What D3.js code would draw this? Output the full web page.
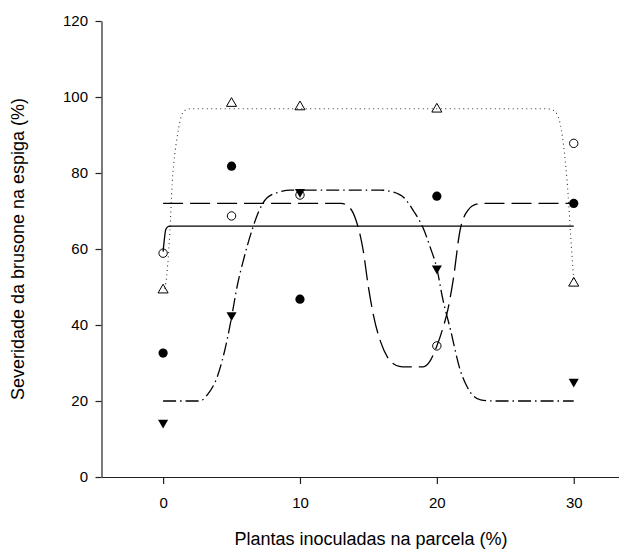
<!DOCTYPE html>
<html>
<head>
<meta charset="utf-8">
<script src="https://d3js.org/d3.v7.min.js"></script>
<style>
  body { margin: 0; background: #fff; }
  svg text { font-family: "Liberation Sans", Arial, sans-serif; fill: #000; }
</style>
</head>
<body>
<div id="chart"></div>
<script>

// observed values (x = % inoculated plants)
var xValues = [0, 5, 10, 20, 30];
var filledCircle = [32.6, 81.8, 46.8, 73.9, 72.0];
var openCircle   = [58.9, 68.7, 74.2, 34.5, 87.8];
var openTriangle = [49.2, 98.3, 97.4, 96.8, 51.0];
var filledTriDown = [14.3, 42.6, 75.0, 54.9, 25.1];

// fitted curves as [x, y] pairs
var curveOpenCircle = [[0, 59.3], [0.1, 62.8], [0.2, 65.2], [0.4, 65.95], [0.7, 66], [30, 66]];
var curveOpenTriangle = [[0.1, 49.6], [0.2, 51], [0.34, 56], [0.5, 65], [0.66, 77], [0.85, 85],
  [1.0, 88.7], [1.26, 94], [1.6, 96.5], [2.0, 96.9], [28.0, 96.9], [28.5, 96.5], [28.8, 95.3],
  [29.1, 91.3], [29.4, 82.5], [29.6, 73.8], [29.75, 65], [29.9, 57], [30, 52]];
var curveFilledCircle = [[0, 72], [13.0, 72], [13.6, 71], [14.1, 67.5], [14.6, 60], [15.0, 50],
  [15.4, 42], [15.9, 35.5], [16.4, 31.5], [17.0, 29.4], [17.5, 29], [19.0, 29], [19.5, 30.5],
  [20.0, 34.5], [20.4, 38.7], [20.8, 44], [21.2, 52], [21.7, 65], [22.3, 70.3], [22.9, 71.8],
  [23.5, 72], [30, 72]];
var curveTriDown = [[0, 20], [2.7, 20], [3.2, 21.5], [3.96, 26.4], [4.67, 36], [5.0, 42],
  [5.4, 50], [5.9, 57.5], [6.5, 65], [7.0, 70], [7.6, 73.5], [8.6, 75.1], [9.3, 75.5],
  [15.9, 75.5], [16.8, 75], [17.6, 73.5], [18.3, 70], [19.0, 65.5], [19.5, 60.6], [20.0, 54.9],
  [20.4, 47.4], [21.0, 38.7], [21.7, 28.2], [22.2, 23.8], [23.2, 20.3], [24.2, 20], [30, 20]];

var yTicks = [0, 20, 40, 60, 80, 100, 120];
var xTicks = [0, 10, 20, 30];

var width = 619, height = 553;

var svg = d3.select("#chart").append("svg")
  .attr("width", width)
  .attr("height", height);

var x = d3.scaleLinear().domain([-4.5, 33.3]).range([101.5, 618.9]);
var y = d3.scaleLinear().domain([0, 120]).range([477, 21]);

// axes
var gx = svg.append("g")
  .attr("transform", "translate(0,477)")
  .call(d3.axisBottom(x).tickValues(xTicks).tickSize(7).tickSizeOuter(0).tickPadding(13));
var gy = svg.append("g")
  .attr("transform", "translate(101.5,0)")
  .call(d3.axisLeft(y).tickValues(yTicks).tickSize(6).tickSizeOuter(0).tickPadding(7.5));

svg.selectAll(".domain, .tick line").attr("stroke", "#222").attr("stroke-width", 1.2);
svg.selectAll(".tick text").attr("font-size", "15px");

// axis titles
svg.append("text")
  .attr("x", 371)
  .attr("y", 545)
  .attr("text-anchor", "middle")
  .attr("font-size", "18px")
  .text("Plantas inoculadas na parcela (%)");

svg.append("text")
  .attr("transform", "translate(24,249) rotate(-90)")
  .attr("text-anchor", "middle")
  .attr("font-size", "18px")
  .text("Severidade da brusone na espiga (%)");

// fitted lines
var line = d3.line()
  .x(function(d) { return x(d[0]); })
  .y(function(d) { return y(d[1]); })
  .curve(d3.curveMonotoneX);

svg.append("path").datum(curveOpenCircle)
  .attr("d", line).attr("fill", "none")
  .attr("stroke", "#000").attr("stroke-width", 1.3);

svg.append("path").datum(curveOpenTriangle)
  .attr("d", line).attr("fill", "none")
  .attr("stroke", "#333").attr("stroke-width", 1.1)
  .attr("stroke-dasharray", "1,3.5");

svg.append("path").datum(curveFilledCircle)
  .attr("d", line).attr("fill", "none")
  .attr("stroke", "#000").attr("stroke-width", 1.3)
  .attr("stroke-dasharray", "20,7");

svg.append("path").datum(curveTriDown)
  .attr("d", line).attr("fill", "none")
  .attr("stroke", "#000").attr("stroke-width", 1.3)
  .attr("stroke-dasharray", "13,4,1.5,4");

// markers
function pts(vals) {
  return vals.map(function(v, i) { return [xValues[i], v]; });
}

svg.append("g").selectAll("circle")
  .data(pts(filledCircle))
  .enter().append("circle")
  .attr("cx", function(d) { return x(d[0]); })
  .attr("cy", function(d) { return y(d[1]); })
  .attr("r", 4.6)
  .attr("fill", "#000");

svg.append("g").selectAll("circle")
  .data(pts(openCircle))
  .enter().append("circle")
  .attr("cx", function(d) { return x(d[0]); })
  .attr("cy", function(d) { return y(d[1]); })
  .attr("r", 4.2)
  .attr("fill", "none")
  .attr("stroke", "#000")
  .attr("stroke-width", 1);

var tri = d3.symbol().type(d3.symbolTriangle).size(44);

svg.append("g").selectAll("path")
  .data(pts(openTriangle))
  .enter().append("path")
  .attr("d", tri)
  .attr("transform", function(d) { return "translate(" + x(d[0]) + "," + y(d[1]) + ")"; })
  .attr("fill", "none")
  .attr("stroke", "#000")
  .attr("stroke-width", 1);

svg.append("g").selectAll("path")
  .data(pts(filledTriDown))
  .enter().append("path")
  .attr("d", tri)
  .attr("transform", function(d) { return "translate(" + x(d[0]) + "," + y(d[1]) + ") rotate(180)"; })
  .attr("fill", "#000");

</script>
</body>
</html>
